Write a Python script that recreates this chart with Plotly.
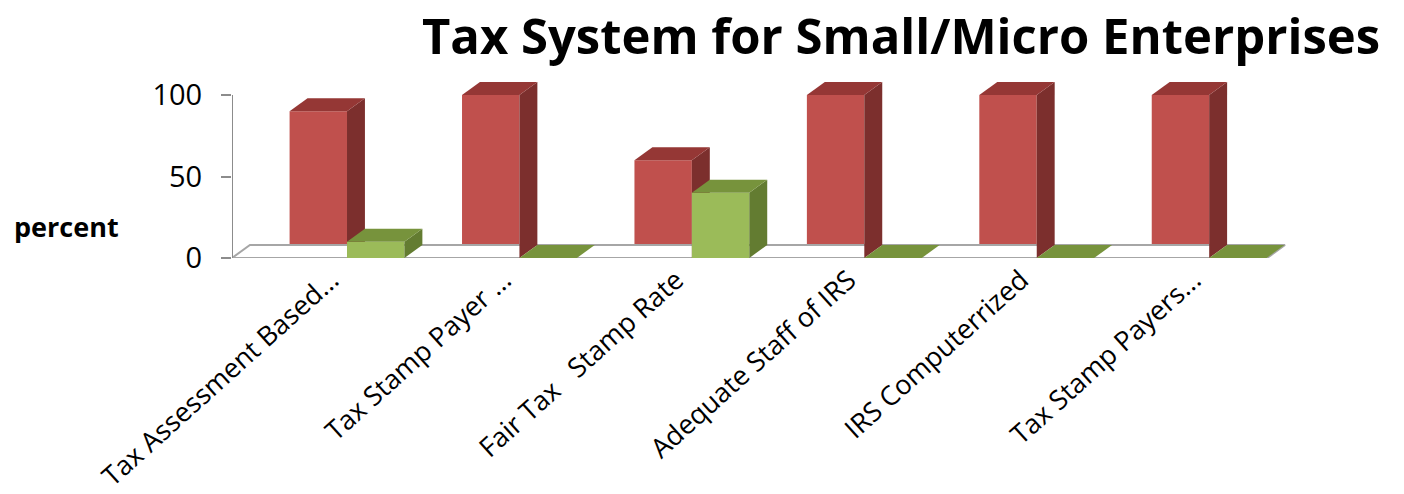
import plotly.graph_objects as go

categories = ["Tax Assessment Based...", "Tax Stamp Payer ...", "Fair Tax\u00a0\u00a0 Stamp Rate",
              "Adequate Staff of IRS", "IRS Computerrized", "Tax Stamp Payers..."]
red_values = [90, 100, 60, 100, 100, 100]
green_values = [10, 0, 40, 0, 0, 0]

RED_FRONT, RED_TOP, RED_SIDE = "#C0504D", "#953735", "#7C2F2D"
GRN_FRONT, GRN_TOP, GRN_SIDE = "#9BBB59", "#77933C", "#637C31"

W = 0.333      # bar width (category units)
DX = 0.104     # depth offset along x
DY = 8.0       # depth offset along y (value units)
X0, X1 = -0.667, 5.336   # floor extent
LABEL_SHIFT = -0.09

fig = go.Figure()

# floor
fig.add_trace(go.Scatter(x=[X0, X1, X1 + DX, X0 + DX, X0], y=[0, 0, DY, DY, 0],
                         mode="lines", fill="toself", fillcolor="white",
                         line=dict(color="#A6A6A6", width=2), hoverinfo="skip",
                         showlegend=False))
# y axis line
fig.add_trace(go.Scatter(x=[X0, X0], y=[0, 100], mode="lines",
                         line=dict(color="#8C8C8C", width=2), hoverinfo="skip",
                         showlegend=False))


def faces(xl, v, top, side, axes):
    xr = xl + W
    fig.add_trace(go.Scatter(x=[xr, xr + DX, xr + DX, xr, xr], y=[0, DY, v + DY, v, 0],
                             mode="lines", fill="toself", fillcolor=side, line=dict(width=0),
                             hoverinfo="skip", showlegend=False, **axes))
    fig.add_trace(go.Scatter(x=[xl, xr, xr + DX, xl + DX, xl], y=[v, v, v + DY, v + DY, v],
                             mode="lines", fill="toself", fillcolor=top, line=dict(width=0),
                             hoverinfo="skip", showlegend=False, **axes))


xs = list(range(len(categories)))

fig.add_trace(go.Bar(x=xs, y=red_values, width=W, offset=-W, marker_color=RED_FRONT,
                     marker_line_width=0, name="Yes", showlegend=False))
for i, v in enumerate(red_values):
    faces(i - W, v, RED_TOP, RED_SIDE, {})

fig.add_trace(go.Bar(x=xs, y=green_values, width=W, offset=0, marker_color=GRN_FRONT,
                     marker_line_width=0, name="No", showlegend=False,
                     xaxis="x2", yaxis="y2"))
for i, v in enumerate(green_values):
    faces(i, v, GRN_TOP, GRN_SIDE, dict(xaxis="x2", yaxis="y2"))

xr = [-0.667, 5.55]
yr = [0, 108]
FONT = "Open Sans"
FW, FH = 1404, 494
L, T = 232, 82
PW, PH = 1072, 176

fig.update_layout(
    width=FW, height=FH,
    margin=dict(l=L, r=FW - L - PW, t=T, b=FH - T - PH, autoexpand=False),
    paper_bgcolor="white", plot_bgcolor="rgba(0,0,0,0)",
    barmode="overlay",
    title=dict(text="<b>Tax System for Small/Micro Enterprises</b>",
               font=dict(family=FONT, size=49, color="black"),
               x=901 / FW, xanchor="center", y=1 - 37 / FH, yanchor="middle"),
    xaxis=dict(range=xr, tickmode="array", tickvals=[i + LABEL_SHIFT for i in xs],
               ticktext=categories,
               tickangle=-42, showgrid=False, zeroline=False, showline=False,
               ticks="", ticklabelstandoff=0, automargin=False,
               tickfont=dict(family=FONT, size=27, color="black")),
    yaxis=dict(range=yr, tickvals=[0, 50, 100], showgrid=False, zeroline=False,
               showline=False, ticks="outside", ticklen=10, tickwidth=2,
               tickcolor="#8C8C8C", ticklabelstandoff=13, automargin=False,
               tickfont=dict(family=FONT, size=29, color="black")),
    xaxis2=dict(range=xr, overlaying="x", visible=False),
    yaxis2=dict(range=yr, overlaying="y", visible=False),
    annotations=[dict(text="<b>percent</b>", xref="paper", yref="paper",
                      x=(12 - L) / PW, xanchor="left", y=(258 - 226) / PH,
                      yanchor="middle", showarrow=False,
                      font=dict(family=FONT, size=27, color="black"))],
)

fig.write_html("out.html", config={"displayModeBar": False},
               post_script="document.body.style.margin='0px';")
